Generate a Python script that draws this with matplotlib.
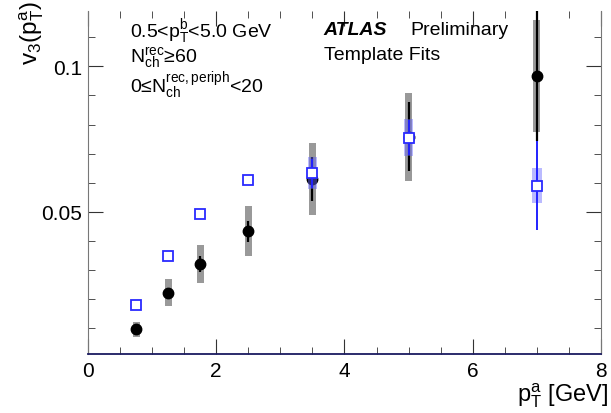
import matplotlib.pyplot as plt
from matplotlib.ticker import MultipleLocator

plt.rcParams['font.family'] = ['Liberation Sans', 'DejaVu Sans']
plt.rcParams['mathtext.fontset'] = 'custom'
plt.rcParams['mathtext.rm'] = 'Liberation Sans'
plt.rcParams['mathtext.it'] = 'Liberation Sans'
plt.rcParams['mathtext.bf'] = 'Liberation Sans:bold'

# black points (template fits, central)
pt = [0.75, 1.25, 1.75, 2.5, 3.5, 5.0, 7.0]
v3 = [0.0097, 0.0223, 0.0320, 0.0433, 0.0613, 0.0758, 0.0967]
v3_stat = [0.0008, 0.0012, 0.0027, 0.0035, 0.0075, 0.0118, 0.0225]
v3_syst = [0.0026, 0.0046, 0.0065, 0.0086, 0.0123, 0.0152, 0.0193]

# blue open squares
v3_blue = [0.0182, 0.0347, 0.0493, 0.0610, 0.0633, 0.0755, 0.0590]
blue_stat = [0.0005, 0.0006, 0.0007, 0.0008, 0.0050, 0.0060, 0.0152]
blue_syst = [0.0007, 0.0008, 0.0009, 0.0012, 0.0054, 0.0063, 0.0060]

fig = plt.figure(figsize=(6.11, 4.14), dpi=100)
ax = fig.add_axes([0.144, 0.1425, 0.8396, 0.8285])

ax.bar(pt, [2 * s for s in v3_syst], bottom=[v - s for v, s in zip(v3, v3_syst)],
       width=0.11, color='#999999', zorder=2)
ax.errorbar(pt, v3, yerr=v3_stat, fmt='o', color='black', ms=7.5, elinewidth=1.6,
            capsize=0, zorder=3)
ax.bar(pt, [2 * s for s in blue_syst], bottom=[v - s for v, s in zip(v3_blue, blue_syst)],
       width=0.15, color='#6666ff', alpha=0.45, zorder=4)
ax.errorbar(pt, v3_blue, yerr=blue_stat, fmt='none', ecolor='#2222ff', elinewidth=1.4,
            capsize=0, zorder=5)
ax.plot(pt, v3_blue, 's', ms=7.5, mfc='white', mec='#2a2aff', mew=1.3, zorder=6)

ax.set_xlim(0, 8)
ax.set_ylim(0.0012, 0.119)
ax.xaxis.set_minor_locator(MultipleLocator(0.5))
ax.yaxis.set_minor_locator(MultipleLocator(0.01))
ax.set_xticks([0, 2, 4, 6, 8])
ax.set_yticks([0.05, 0.1])
ax.set_yticklabels(['0.05', '0.1'])
ax.tick_params(which='both', direction='in', top=True, right=True, labelsize=15,
               color='#333333')
ax.tick_params(which='major', length=11)
ax.tick_params(which='minor', length=5)
ax.tick_params(axis='x', pad=5)
ax.tick_params(axis='y', pad=4)

ax.spines['top'].set_visible(False)
ax.spines['left'].set_color('#777777')
ax.spines['right'].set_color('#777777')
ax.spines['bottom'].set_color('#1a1a60')
ax.spines['bottom'].set_linewidth(1.3)

fig.text(0.995, 0.03, r'$\mathregular{p_T^a}$ [GeV]', fontsize=17, ha='right', va='baseline')
fig.text(0.052, 0.997, r'$\mathregular{v_3(p_T^a)}$', fontsize=17.5, rotation=90,
         ha='center', va='top')

ax.text(0.082, 0.927, r'0.5<$\mathregular{p_T^b}$<5.0 GeV', transform=ax.transAxes,
        fontsize=14, va='baseline')
ax.text(0.082, 0.851, r'$\mathregular{N_{ch}^{rec}}$≥60', transform=ax.transAxes,
        fontsize=14, va='baseline')
ax.text(0.082, 0.764, r'0≤$\mathregular{N_{ch}^{rec,periph}}$<20', transform=ax.transAxes,
        fontsize=14, va='baseline')
ax.text(0.458, 0.933, 'ATLAS', transform=ax.transAxes, fontsize=14,
        fontweight='bold', style='italic', va='baseline')
ax.text(0.628, 0.933, 'Preliminary', transform=ax.transAxes, fontsize=14, va='baseline')
ax.text(0.460, 0.860, 'Template Fits', transform=ax.transAxes, fontsize=14, va='baseline')

fig.savefig('out.png', dpi=100)
